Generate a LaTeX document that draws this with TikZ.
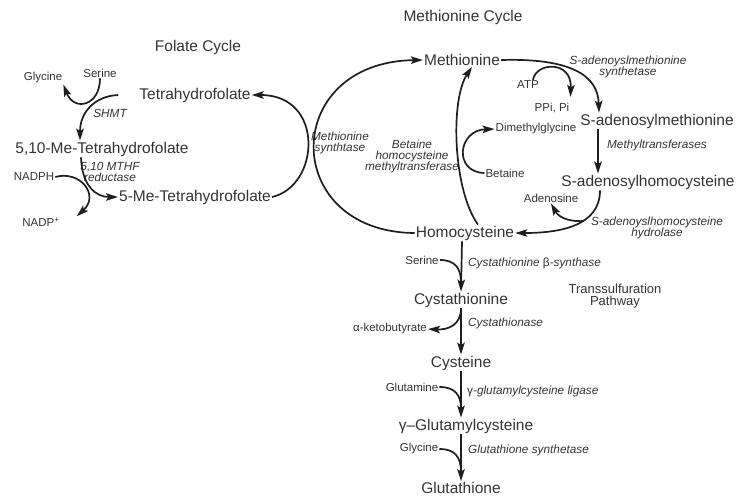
\documentclass[tikz,border=0pt]{standalone}
\usepackage{fontspec}
\setmainfont{Liberation Sans}
\usetikzlibrary{arrows.meta}
\definecolor{txtcol}{HTML}{333333}
\definecolor{lncol}{HTML}{1E1E1E}
\tikzset{
  met/.style={font=\fontsize{15.5}{16}\selectfont, text=txtcol, inner sep=1pt},
  sml/.style={font=\fontsize{11.5}{12}\selectfont, text=txtcol, inner sep=1pt},
  enz/.style={font=\itshape\fontsize{11.8}{11}\selectfont, text=txtcol, inner sep=1pt, align=center},
  ttl/.style={font=\fontsize{15.5}{16}\selectfont, text=txtcol, align=center},
  rx/.style={line width=1.7pt, draw=lncol, -{Stealth[length=12pt,width=7.5pt,inset=2.5pt]}},
  side/.style={line width=1.7pt, draw=lncol},
}
\begin{document}
\begin{tikzpicture}[x=1pt,y=-1pt]
        \useasboundingbox (0,0) rectangle (742,499);
        %% Titles
        \node[ttl] (fctitle) at (198,47) {Folate Cycle};
        \node[ttl] (mctitle) at (463,17) {Methionine Cycle};
        \node[ttl, font=\fontsize{13}{12.5}\selectfont] (tsptitle) at (615,296) {Transsulfuration\\Pathway};
        %% Folate cycle
        \node[met] (thf) at (195,95) {Tetrahydrofolate};
        \node[met] (mthf) at (102,149) {5,10-Me-Tetrahydrofolate};
        \node[met] (methf) at (195,197) {5-Me-Tetrahydrofolate};
        \node[sml] (ser) at (100,73) {Serine};
        \node[sml] (gly) at (43,78) {Glycine};
        \node[sml] (nadph) at (34,177) {NADPH};
        \node[sml] (nadp) at (41,222) {NADP\textsuperscript{+}};
        \node[enz] (shmt) at (110,113) {SHMT};
        \node[enz] (mthfr) at (110,172) {5,10 MTHF\\reductase};
        %% Methionine cycle
        \node[met] (met) at (462,60) {Methionine};
        \node[met] (sam) at (657,121) {S-adenosylmethionine};
        \node[met] (sah) at (648,182) {S-adenosylhomocysteine};
        \node[met] (hcy) at (465,233) {Homocysteine};
        \node[sml] (atp) at (528,85) {ATP};
        \node[sml] (ppi) at (552,108) {PPi, Pi};
        \node[sml] (dmg) at (536,129) {Dimethylglycine};
        \node[sml] (bet) at (505,173) {Betaine};
        \node[sml] (ado) at (551,198) {Adenosine};
        \node[enz] (mats) at (628,67) {S-adenoyslmethionine\\synthetase};
        \node[enz] (mtr) at (657,145) {Methyltransferases};
        \node[enz] (sahh) at (657,228) {S-adenoyslhomocysteine\\hydrolase};
        \node[enz] (ms) at (340,143) {Methionine\\synthtase};
        \node[enz] (bhmt) at (412,156) {Betaine\\homocysteine\\methyltransferase};
        %% Transsulfuration
        \node[met] (cth) at (461,300) {Cystathionine};
        \node[met] (cys) at (461,363) {Cysteine};
        \node[met] (ggc) at (466,426) {γ–Glutamylcysteine};
        \node[met] (gsh) at (461,488) {Glutathione};
        \node[sml] (ser2) at (422,260) {Serine};
        \node[sml] (akb) at (390,329) {α-ketobutyrate};
        \node[sml] (gln) at (412,387) {Glutamine};
        \node[sml] (gly2) at (419,449) {Glycine};
        \node[enz, anchor=west] (cbs) at (467,263) {Cystathionine {\upshape β}-synthase};
        \node[enz, anchor=west] (cgl) at (467,323) {Cystathionase};
        \node[enz, anchor=west] (gcl) at (466,391) {{\upshape γ}-glutamylcysteine ligase};
        \node[enz, anchor=west] (gss) at (467,450) {Glutathione synthetase};
        %% Folate reactions
        \draw[rx] ([xshift=-20pt]thf.west) .. controls (95,96) and (80,112) .. ([xshift=-22pt]mthf.north);
        \draw[rx] (ser.south) .. controls (100,106) and (74,112) .. (gly.south east);
        \draw[rx] ([xshift=-21pt]mthf.south) .. controls (82,186) and (96,197) .. (methf.west);
        \draw[rx] (nadph.east) .. controls (80,170) and (100,195) .. ([xshift=16pt]nadp.north east);
        \draw[rx] (methf.east) .. controls (320,186) and (325,95) .. (thf.east);
        %% Methionine cycle reactions
        \draw[rx] (hcy.west) .. controls (280,232) and (280,62) .. (met.west);
        \draw[rx] ([xshift=13pt]hcy.north) .. controls (453,190) and (450,100) .. ([xshift=10pt]met.south);
        \draw[rx] (bet.west) .. controls (453,172) and (458,130) .. (dmg.west);
        \draw[rx] (met.east) .. controls (570,58) and (598,75) .. ([xshift=-58pt]sam.north);
        \draw[rx] ([xshift=5pt]atp.north) .. controls (536,62) and (572,60) .. ([yshift=5pt]ppi.north east);
        \draw[rx] ([xshift=-59pt]sam.south) -- ([xshift=-50pt]sah.north);
        \draw[rx] ([xshift=-48pt]sah.south) .. controls (600,226) and (560,233) .. (hcy.east);
        \coordinate (adobr) at (584,221);
        \draw[rx] (adobr) .. controls (566,222) and (558,216) .. (ado.south);
        %% Transsulfuration reactions
        \draw[rx] ([xshift=-3pt]hcy.south) -- (cth.north);
        \draw[side] (ser2.east) .. controls (455,260) and (461,268) .. ([yshift=9pt]cth.north);
        \draw[rx] (cth.south) -- (cys.north);
        \draw[rx] (cth.south) .. controls (461,325) and (448,330) .. (akb.east);
        \draw[rx] (cys.south) -- ([xshift=-5pt]ggc.north);
        \draw[side] (gln.east) .. controls (455,387) and (461,395) .. ([xshift=-5pt,yshift=9pt]ggc.north);
        \draw[rx] ([xshift=-5pt]ggc.south) -- (gsh.north);
        \draw[side] (gly2.east) .. controls (455,449) and (461,457) .. ([yshift=9pt]gsh.north);
\end{tikzpicture}
\end{document}
